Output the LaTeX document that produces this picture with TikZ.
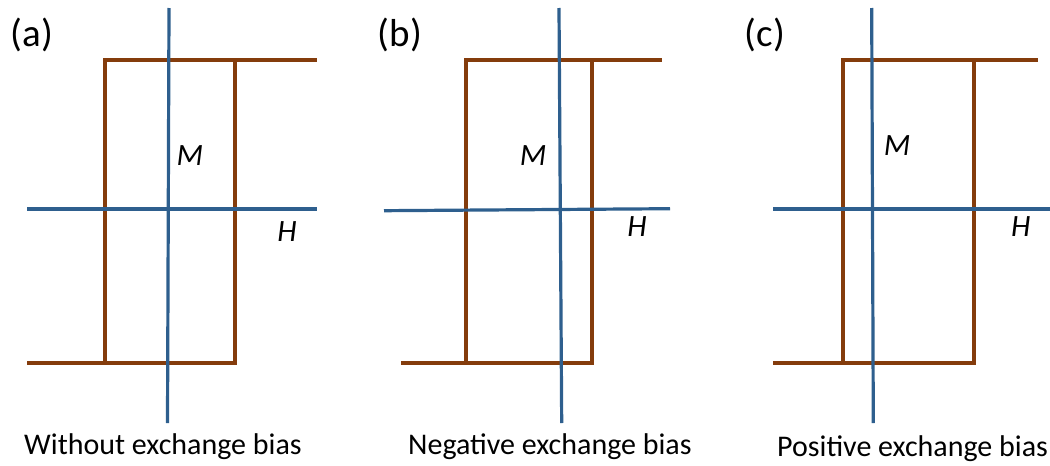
\documentclass[tikz,border=0pt]{standalone}
\usepackage{fontspec}
\setmainfont{Carlito}
\definecolor{loopc}{HTML}{843C0C}
\definecolor{axisc}{HTML}{2E5F8E}
\tikzset{
  loopline/.style={draw=loopc, line width=4.8pt},
  axisline/.style={draw=axisc, line width=3.2pt},
  panellabel/.style={font=\fontsize{39}{44}\selectfont, inner sep=0pt},
  caption/.style={font=\fontsize{30}{35}\selectfont, inner sep=0pt, anchor=base west},
  axislabel/.style={font=\fontsize{31}{36}\selectfont\itshape, inner sep=0pt},
}
\begin{document}
\begin{tikzpicture}[x=1pt,y=-1pt]
\useasboundingbox (0,0) rectangle (1050,466);
% ---------- panel (a)
\draw[loopline] (105,363) -- (105,60) -- (317,60);
\draw[loopline] (27,363) -- (235,363) -- (235,60);
\draw[axisline] (27,209) -- (317,209);
\draw[axisline] (169,8) -- (167.5,423);
\node[panellabel] (la) at (32,35) {(a)};
\node[axislabel] (ma) at (190,156) {M};
\node[axislabel] (ha) at (287,232) {H};
\node[caption] (ca) at (24,454) {Without exchange bias};
% ---------- panel (b)
\draw[loopline] (466,363) -- (466,60) -- (662,60);
\draw[loopline] (401,363) -- (592,363) -- (592,60);
\draw[axisline] (384,210.7) -- (670,208.7);
\draw[axisline] (559,8) -- (561.7,423);
\node[panellabel] (lb) at (400,35) {(b)};
\node[axislabel] (mb) at (533,156) {M};
\node[axislabel] (hb) at (637,227) {H};
\node[caption] (cb) at (408,454) {Negative exchange bias};
% ---------- panel (c)
\draw[loopline] (843,363) -- (843,60) -- (1038,60);
\draw[loopline] (773,363) -- (974,363) -- (974,60);
\draw[axisline] (773,209) -- (1050,209);
\draw[axisline] (871.7,8) -- (873.3,423);
\node[panellabel] (lc) at (765,35) {(c)};
\node[axislabel] (mc) at (897,146) {M};
\node[axislabel] (hc) at (1020.7,227) {H};
\node[caption] (cc) at (777,456) {Positive exchange bias};
\end{tikzpicture}
\end{document}
